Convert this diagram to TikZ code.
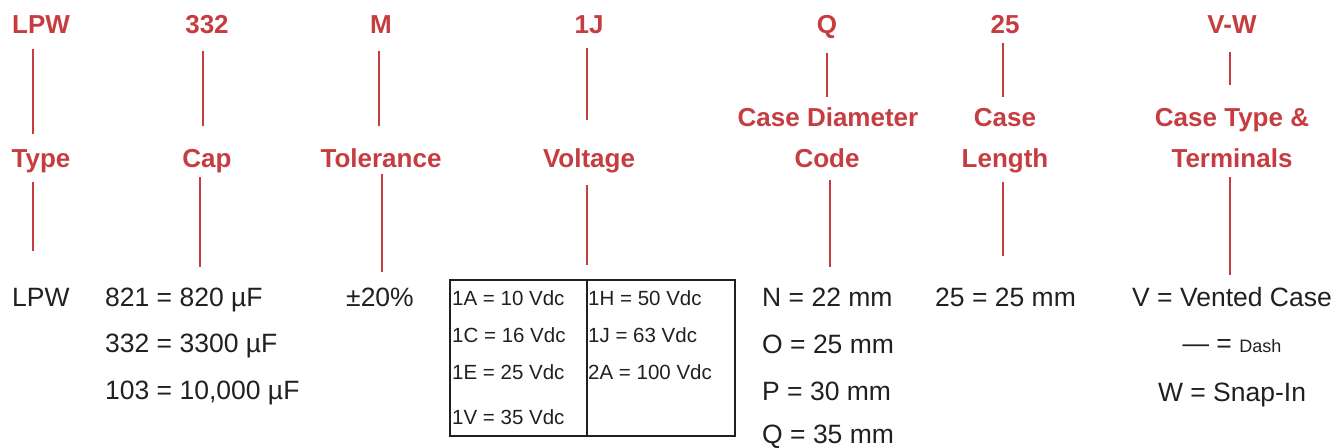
\documentclass[tikz,border=0pt]{standalone}
\usepackage{fontspec}
\setmainfont{Liberation Sans}
\usepackage[rgb]{xcolor}
\usetikzlibrary{calc}
\tikzset{>=latex}
\definecolor{partred}{RGB}{198,61,65}
\definecolor{partink}{RGB}{35,31,32}
\newcommand{\partredfont}{\fontsize{26}{30}\selectfont\bfseries}
\newcommand{\partvalfont}{\fontsize{26.5}{31}\selectfont}
\newcommand{\parttabfont}{\fontsize{20.5}{24}\selectfont}
\newcommand{\partsmallfont}{\fontsize{18}{21}\selectfont}

\begin{document}
\begin{tikzpicture}[x=1pt,y=-1pt,
    partcode/.style={font=\partredfont,text=partred,inner sep=0pt,text height=18.6pt,text depth=0pt},
    partval/.style={font=\partvalfont,text=partink,inner sep=0pt,text height=19pt,text depth=0pt},
    parttab/.style={font=\parttabfont,text=partink,inner sep=0pt,text height=14.7pt,text depth=0pt,anchor=west},
    partline/.style={draw=partred,line width=2.8pt},
    tabline/.style={draw=partink,line width=1.6pt}
  ]

  \useasboundingbox (0,0) rectangle (1335,447);

  % part number codes
  \node[partcode] (cLPW) at (41,24) {LPW};
  \node[partcode] (cCap) at (207,24) {332};
  \node[partcode] (cTol) at (381,24) {M};
  \node[partcode] (cVolt) at (589,24) {1J};
  \node[partcode] (cDiam) at (827,24) {Q};
  \node[partcode] (cLen) at (1005,24) {25};
  \node[partcode] (cType) at (1232,24) {V-W};

  % labels
  \node[partcode] (lType) at (41,158) {Type};
  \node[partcode] (lCap) at (207,158) {Cap};
  \node[partcode] (lTol) at (381,158) {Tolerance};
  \node[partcode] (lVolt) at (589,158) {Voltage};
  \node[partcode] (lDiam) at (828,117) {Case Diameter};
  \node[partcode] (lCode) at (827,158) {Code};
  \node[partcode] (lCase) at (1005,117) {Case};
  \node[partcode] (lLen) at (1005,158) {Length};
  \node[partcode] (lCaseType) at (1232,117) {Case Type \&};
  \node[partcode] (lTerm) at (1232,158) {Terminals};

  % values
  \node[partval,anchor=west] (vLPW) at (12,297) {LPW};
  \node[partval,anchor=west] (vCapA) at (105,297) {821 = 820 µF};
  \node[partval,anchor=west] (vCapB) at (105,343) {332 = 3300 µF};
  \node[partval,anchor=west] (vCapC) at (105,390) {103 = 10,000 µF};
  \node[partval] (vTol) at (380,297) {±20\%};

  \node[tabline,draw,inner sep=0pt,minimum width=285pt,minimum height=156pt,anchor=north west] (vTab) at (449,279) {};
  \draw[tabline] ([xshift=-5.5pt]vTab.north) -- ([xshift=-5.5pt]vTab.south);
  \node[parttab] (t1A) at (452,298) {1A = 10 Vdc};
  \node[parttab] (t1C) at (452,335) {1C = 16 Vdc};
  \node[parttab] (t1E) at (452,372) {1E = 25 Vdc};
  \node[parttab] (t1V) at (452,417) {1V = 35 Vdc};
  \node[parttab] (t1H) at (588,298) {1H = 50 Vdc};
  \node[parttab] (t1J) at (588,335) {1J = 63 Vdc};
  \node[parttab] (t2A) at (588,372) {2A = 100 Vdc};

  \node[partval,anchor=west] (vDiamN) at (762,297) {N = 22 mm};
  \node[partval,anchor=west] (vDiamO) at (762,344) {O = 25 mm};
  \node[partval,anchor=west] (vDiamP) at (762,391) {P = 30 mm};
  \node[partval,anchor=west] (vDiamQ) at (762,434) {Q = 35 mm};
  \node[partval,anchor=west] (vLen) at (935,297) {25 = 25 mm};
  \node[partval] (vVent) at (1232,297) {V = Vented Case};
  \node[partval] (vDash) at (1232,343) {— = {\partsmallfont Dash}};
  \node[partval] (vSnap) at (1232,392) {W = Snap-In};

  % connectors
  \foreach \a/\b/\dx/\s/\e in {cLPW/lType/-8/15.7/14.7, lType/vLPW/-8/14.7/36.5,
      cCap/lCap/-4/17.7/22.7, lCap/vCapA/-7/9.7/20.5,
      cTol/lTol/-2/17.7/22.7, lTol/vTol/1/6.7/15.5,
      cVolt/lVolt/-2/14.7/28.7, lVolt/vTab/-2/17.7/14,
      cDiam/lDiam/0/19.7/10.7, lCode/vDiamN/3/12.7/20.5,
      cLen/lCase/-2/9.7/10.7, lLen/vLen/-2/14.7/31.5,
      cType/lCaseType/-2/18.7/22.7, lTerm/vVent/-2/9.7/12.5}
    \draw[partline,shorten <=\s pt,shorten >=\e pt] ([xshift=\dx pt]\a.south) -- ([xshift=\dx pt]\a.south |- \b.north);

\end{tikzpicture}
\end{document}
